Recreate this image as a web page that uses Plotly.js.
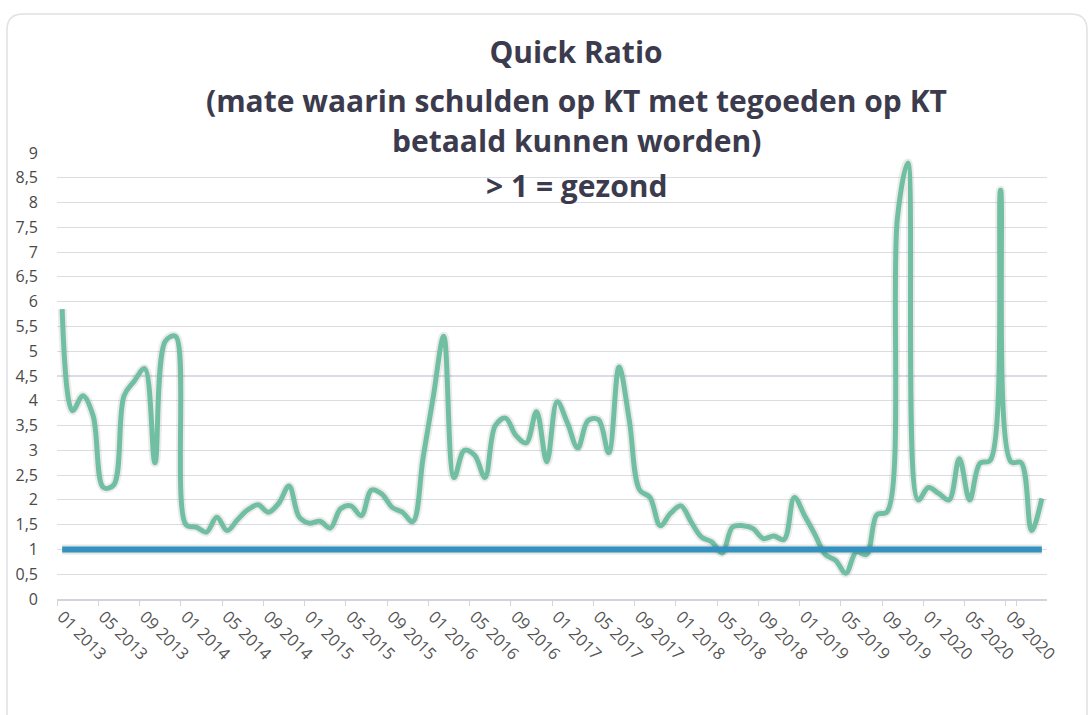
<!DOCTYPE html>
<html>
<head>
<meta charset="utf-8">
<script src="https://cdn.plot.ly/plotly-3.0.1.min.js"></script>
<style>
  html, body { margin: 0; padding: 0; background: #ffffff; }
  #chart { width: 1092px; height: 715px; }
</style>
</head>
<body>
<div id="chart"></div>
<script>
// ---- Data ----
const months = [
  "01 2013","02 2013","03 2013","04 2013","05 2013","06 2013","07 2013","08 2013","09 2013","10 2013","11 2013","12 2013",
  "01 2014","02 2014","03 2014","04 2014","05 2014","06 2014","07 2014","08 2014","09 2014","10 2014","11 2014","12 2014",
  "01 2015","02 2015","03 2015","04 2015","05 2015","06 2015","07 2015","08 2015","09 2015","10 2015","11 2015","12 2015",
  "01 2016","02 2016","03 2016","04 2016","05 2016","06 2016","07 2016","08 2016","09 2016","10 2016","11 2016","12 2016",
  "01 2017","02 2017","03 2017","04 2017","05 2017","06 2017","07 2017","08 2017","09 2017","10 2017","11 2017","12 2017",
  "01 2018","02 2018","03 2018","04 2018","05 2018","06 2018","07 2018","08 2018","09 2018","10 2018","11 2018","12 2018",
  "01 2019","02 2019","03 2019","04 2019","05 2019","06 2019","07 2019","08 2019","09 2019","10 2019","11 2019","12 2019",
  "01 2020","02 2020","03 2020","04 2020","05 2020","06 2020","07 2020","08 2020","09 2020","10 2020","11 2020","12 2020"
];

const quickRatio = [
  5.85, 3.80, 4.10, 3.70, 2.25, 2.30, 4.10, 4.40, 4.65, 2.75, 5.20, 5.30,
  1.50, 1.45, 1.35, 1.65, 1.38, 1.60, 1.80, 1.90, 1.75, 1.93, 2.28, 1.65,
  1.53, 1.57, 1.43, 1.82, 1.88, 1.68, 2.20, 2.12, 1.85, 1.75, 1.56, 2.85,
  4.10, 5.30, 2.45, 3.00, 2.90, 2.45, 3.50, 3.65, 3.30, 3.15, 3.78, 2.77,
  3.98, 3.55, 3.05, 3.60, 3.62, 2.95, 4.68, 3.60, 2.20, 2.05, 1.48, 1.73,
  1.88, 1.55, 1.25, 1.15, 0.93, 1.45, 1.48, 1.42, 1.22, 1.27, 1.20, 2.05,
  1.68, 1.30, 0.90, 0.78, 0.52, 0.95, 0.90, 1.70, 1.76, 7.70, 8.80, 2.00,
  2.25, 2.13, 2.00, 2.83, 2.00, 2.74, 2.80, 8.25, 2.77, 2.75, 1.38, 2.03
];

const healthyThreshold = 1;

const xTickLabels = [
  "01 2013","05 2013","09 2013","01 2014","05 2014","09 2014","01 2015","05 2015",
  "09 2015","01 2016","05 2016","09 2016","01 2017","05 2017","09 2017","01 2018",
  "05 2018","09 2018","01 2019","05 2019","09 2019","01 2020","05 2020","09 2020"
];

const titleLines = [
  "Quick Ratio",
  "(mate waarin schulden op KT met tegoeden op KT",
  "betaald kunnen worden)",
  "> 1 = gezond"
];

// ---- Layout geometry (pixels) ----
const W = 1092, H = 715;
const PL = 57, PR = 1047, PT = 153, PB = 599;
const px2x = p => (p - PL) / (PR - PL);
const py2y = p => (PB - p) / (PB - PT);

const titleFont = { family: "Open Sans, sans-serif", size: 30, color: "#3b3b4d", weight: 700 };
const titleY = [52, 100, 141, 185];
const titleCX = 576;

const annotations = titleLines.slice(1).map((t, i) => ({
  text: "<b>" + t.replace(/>/g, "&gt;") + "</b>",
  xref: "paper", yref: "paper",
  x: px2x(titleCX), y: py2y(titleY[i + 1]),
  xanchor: "center", yanchor: "middle",
  showarrow: false,
  font: titleFont
}));

// rounded frame
const fl = 7, ft = 14, fr = 1087, fb = 760, rr = 16;
const P = (x, y) => px2x(x) + "," + py2y(y);
const framePath =
  "M" + P(fl, ft + rr) +
  " Q" + P(fl, ft) + " " + P(fl + rr, ft) +
  " L" + P(fr - rr, ft) +
  " Q" + P(fr, ft) + " " + P(fr, ft + rr) +
  " L" + P(fr, fb) +
  " L" + P(fl, fb) + " Z";

const traces = [
  {
    x: months, y: quickRatio,
    type: "scatter", mode: "lines",
    line: { color: "rgba(0,0,0,0.08)", width: 9, shape: "spline", smoothing: 1 },
    hoverinfo: "skip", showlegend: false
  },
  {
    x: months, y: quickRatio,
    type: "scatter", mode: "lines",
    name: "Quick Ratio",
    line: { color: "#71bfa3", width: 5, shape: "spline", smoothing: 1 },
    showlegend: false
  },
  {
    x: [months[0], months[months.length - 1]],
    y: [healthyThreshold, healthyThreshold],
    type: "scatter", mode: "lines",
    line: { color: "rgba(0,0,0,0.10)", width: 10 },
    hoverinfo: "skip", showlegend: false
  },
  {
    x: [months[0], months[months.length - 1]],
    y: [healthyThreshold, healthyThreshold],
    type: "scatter", mode: "lines",
    name: "Norm",
    line: { color: "#3492bf", width: 6 },
    showlegend: false
  }
];

const layout = {
  width: W, height: H,
  margin: { l: PL, r: W - PR, t: PT, b: H - PB, pad: 0 },
  paper_bgcolor: "#ffffff",
  plot_bgcolor: "#ffffff",
  separators: ",.",
  showlegend: false,
  title: {
    text: "<b>" + titleLines[0] + "</b>",
    font: titleFont,
    xref: "paper", x: px2x(titleCX), xanchor: "center",
    yref: "container", y: 1 - titleY[0] / H, yanchor: "middle"
  },
  xaxis: {
    type: "category",
    range: [-0.5, months.length - 0.5],
    tickmode: "array",
    tickvals: xTickLabels,
    ticktext: xTickLabels,
    tickson: "boundaries",
    ticks: "outside",
    ticklen: 5,
    tickcolor: "#d3d3dc",
    tickangle: 45,
    showgrid: false,
    showline: true,
    linecolor: "#d3d3dc",
    linewidth: 1.5,
    zeroline: false,
    tickfont: { family: "Open Sans, sans-serif", size: 16.5, color: "#555555" }
  },
  yaxis: {
    range: [0, 9],
    tickmode: "linear",
    tick0: 0,
    dtick: 0.5,
    showgrid: true,
    gridcolor: "#dcdce5",
    gridwidth: 1.2,
    zeroline: false,
    showline: false,
    ticks: "",
    ticklabelstandoff: 18,
    tickfont: { family: "Open Sans, sans-serif", size: 16, color: "#4a4a4a" }
  },
  annotations: annotations,
  shapes: [
    {
      type: "path", xref: "paper", yref: "paper",
      path: framePath,
      line: { color: "#e1e1e6", width: 1.5 },
      fillcolor: "rgba(0,0,0,0)",
      layer: "below"
    }
  ]
};

Plotly.newPlot("chart", traces, layout, { staticPlot: true, displayModeBar: false });
</script>
</body>
</html>
